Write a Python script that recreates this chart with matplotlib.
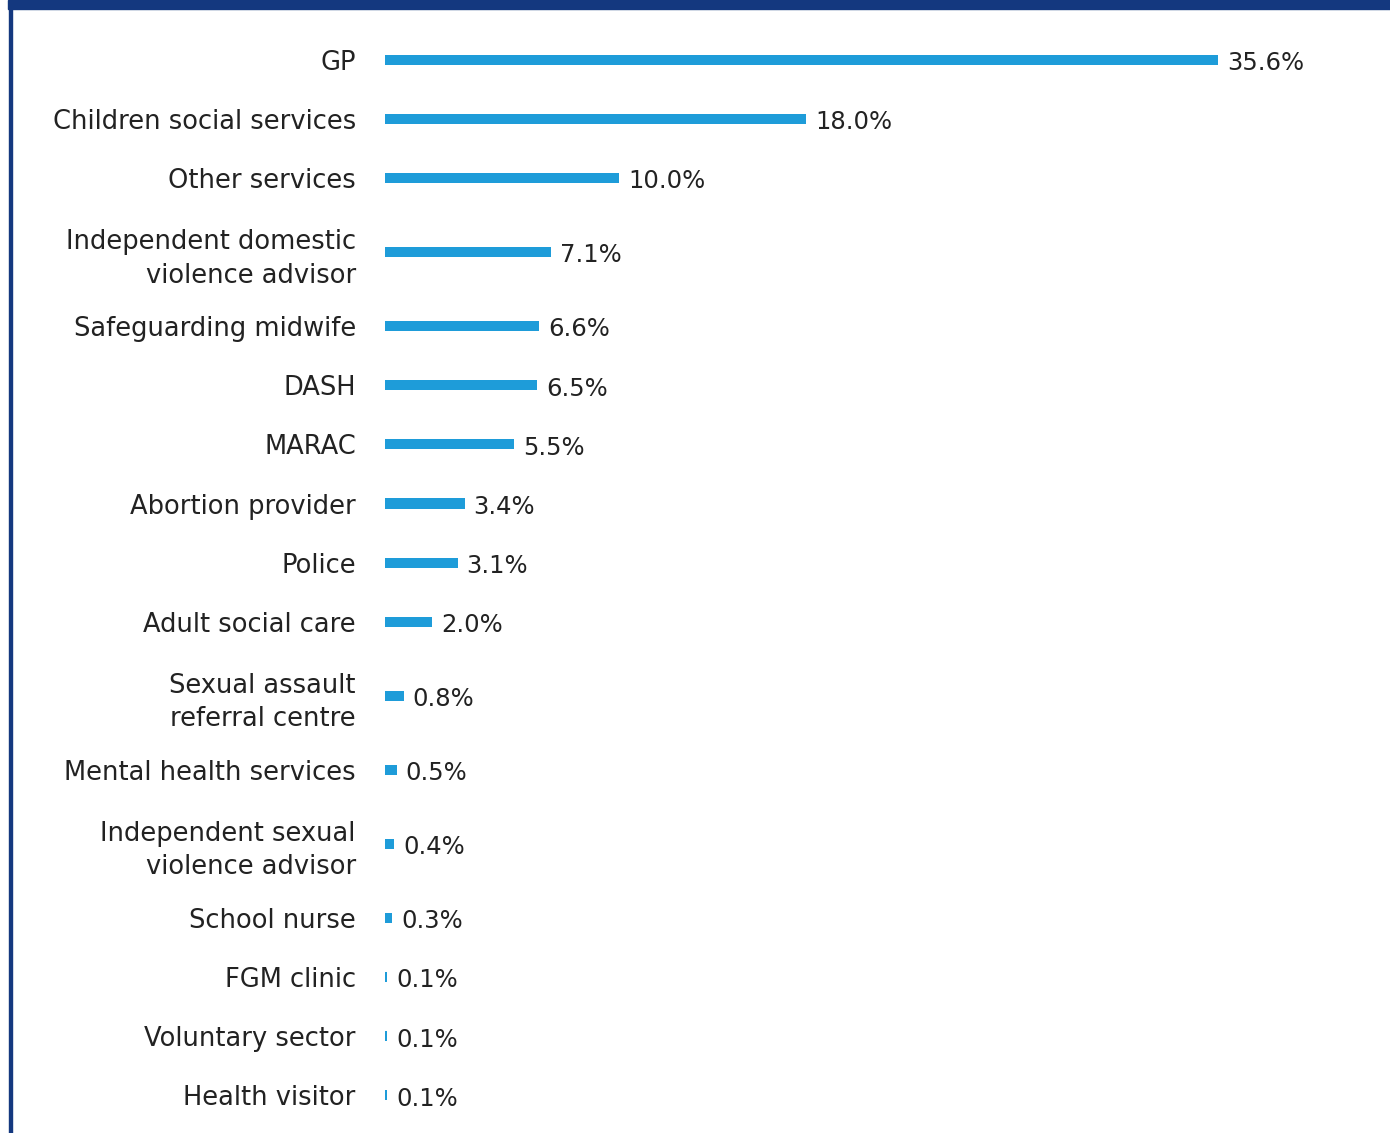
import matplotlib.pyplot as plt
from matplotlib.patches import Rectangle
import numpy as np

labels = [
    'GP', 'Children social services', 'Other services',
    'Independent domestic\nviolence advisor', 'Safeguarding midwife', 'DASH',
    'MARAC', 'Abortion provider', 'Police', 'Adult social care',
    'Sexual assault\nreferral centre', 'Mental health services',
    'Independent sexual\nviolence advisor', 'School nurse', 'FGM clinic',
    'Voluntary sector', 'Health visitor',
]
values = [35.6, 18.0, 10.0, 7.1, 6.6, 6.5, 5.5, 3.4, 3.1, 2.0,
          0.8, 0.5, 0.4, 0.3, 0.1, 0.1, 0.1]

BAR_COLOR = '#1e9cd9'
TEXT_COLOR = '#222222'
FRAME_COLOR = '#14387f'

plt.rcParams['font.family'] = ['DejaVu Sans']

W, H = 1390, 1133
fig = plt.figure(figsize=(W / 100, H / 100), dpi=100)

# two-line labels get half a row of extra room
heights = np.array([1 + 0.5 * lab.count('\n') for lab in labels])
centers = np.cumsum(heights) - heights / 2
total = heights.sum()

top_px, bottom_px = 30, 1125
left_px = 385
px_per_pct = 23.4
ax = fig.add_axes([left_px / W, (H - bottom_px) / H,
                   (W - left_px) / W, (bottom_px - top_px) / H])
ax.barh(centers, values, height=0.17, color=BAR_COLOR)
ax.set_xlim(0, (W - left_px) / px_per_pct)
ax.set_ylim(total, 0)

ax.set_yticks(centers)
ax.set_yticklabels(labels, fontsize=18.5, color=TEXT_COLOR, linespacing=1.38)
ax.tick_params(axis='y', length=0, pad=21)
ax.set_xticks([])
for s in ax.spines.values():
    s.set_visible(False)

for y, v in zip(centers, values):
    ax.annotate(f'{v:.1f}%', xy=(v, y), xytext=(6.5, -2.5),
                textcoords='offset points', va='center', ha='left',
                fontsize=17.5, color=TEXT_COLOR)

# dark blue frame along the top and left edge
fig.patches.append(Rectangle((8 / W, 1 - 9 / H), 1, 9 / H,
                             transform=fig.transFigure, color=FRAME_COLOR))
fig.patches.append(Rectangle((9 / W, 0), 3 / W, 1,
                             transform=fig.transFigure, color=FRAME_COLOR))

fig.savefig('out.png', dpi=100)
